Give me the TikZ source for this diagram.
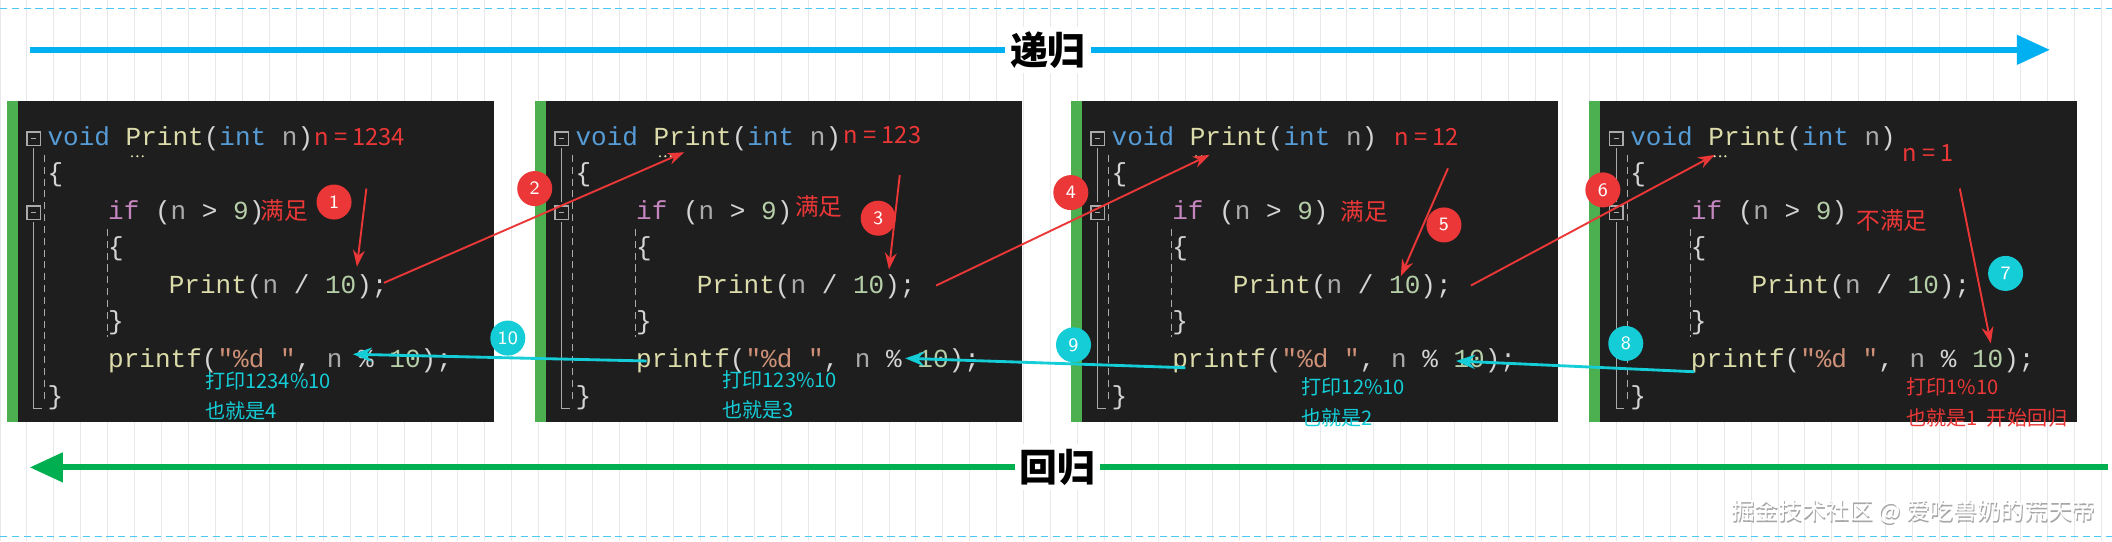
\documentclass[tikz,border=0pt]{standalone}
\usepackage{fontspec}
\setmonofont{Liberation Mono}
\newfontfamily\cjk{Noto Sans CJK SC}
\usetikzlibrary{arrows.meta}
\definecolor{bgcode}{RGB}{30,30,30}
\definecolor{kwblue}{RGB}{86,156,214}
\definecolor{fnyel}{RGB}{220,220,170}
\definecolor{kwpur}{RGB}{197,134,192}
\definecolor{numgr}{RGB}{181,206,168}
\definecolor{stror}{RGB}{206,145,120}
\definecolor{txtgr}{RGB}{212,212,212}
\definecolor{vargr}{RGB}{170,170,170}
\definecolor{barg}{RGB}{76,175,80}
\definecolor{annred}{RGB}{235,55,55}
\definecolor{anncy}{RGB}{20,205,215}
\definecolor{recblue}{RGB}{0,176,240}
\definecolor{retgreen}{RGB}{0,176,80}
\definecolor{gridc}{RGB}{232,232,236}
\tikzset{
 code/.style={anchor=west,inner sep=0pt,font=\ttfamily\fontsize{11}{11}\selectfont,text=txtgr},
 redtxt/.style={anchor=west,inner sep=0pt,text=annred,font=\cjk\fontsize{10}{10}\selectfont},
 cytxt/.style={anchor=west,inner sep=0pt,text=anncy,font=\cjk\fontsize{8.5}{8.5}\selectfont},
 badge/.style={circle,minimum size=0.52cm,inner sep=0pt,text=white,font=\sffamily\fontsize{8}{8}\selectfont},
 redbadge/.style={badge,fill=annred},
 cybadge/.style={badge,fill=anncy},
 redarr/.style={draw=annred,line width=0.8pt,-{Stealth[length=7pt,width=5pt]}},
 cyarr/.style={draw=anncy,line width=1.2pt,-{Stealth[length=8pt,width=6pt]}},
 fold/.style={draw=vargr,line width=0.5pt,minimum size=0.2cm,inner sep=0pt},
}
\newcommand\mypanel[2]{%
 \begin{scope}[shift={(#1,0)}]
  \fill[bgcode] (0,75) rectangle (362,313);
  \fill[barg] (0,75) rectangle (8,313);
  \node[fold] (f1#2) at (20,103) {};
  \draw[vargr,line width=0.3pt] (f1#2.center) ++(-2,0) -- ++(4,0);
  \node[fold] (f2#2) at (20,158) {};
  \draw[vargr,line width=0.3pt] (f2#2.center) ++(-2,0) -- ++(4,0);
  \draw[vargr,line width=0.4pt] (20,110) -- (20,150) (20,165) -- (20,303) -- (26,303);
  \draw[vargr,line width=0.4pt,densely dashed] (28,115) -- (28,298) (75,170) -- (75,250);
  \node[code] (a#2) at (30,103) {\textcolor{kwblue}{void} \textcolor{fnyel}{Print}(\textcolor{kwblue}{int} \textcolor{vargr}{n})};
  \node[code] (b#2) at (30,130) {\{};
  \node[code] (c#2) at (75,158) {\textcolor{kwpur}{if} (\textcolor{vargr}{n} > \textcolor{numgr}{9})};
  \node[code] (d#2) at (75,185) {\{};
  \node[code] (e#2) at (120,213) {\textcolor{fnyel}{Print}(\textcolor{vargr}{n} / \textcolor{numgr}{10});};
  \node[code] (g#2) at (75,240) {\}};
  \node[code] (h#2) at (75,268) {\textcolor{fnyel}{printf}(\textcolor{stror}{"\%d "}, \textcolor{vargr}{n} \% \textcolor{numgr}{10});};
  \node[code] (k#2) at (30,295) {\}};
  \fill[fnyel] (93,116) circle (0.9) (97,116) circle (0.9) (101,116) circle (0.9);
 \end{scope}}
\begin{document}
\begin{tikzpicture}[x=0.02cm,y=-0.02cm]
\useasboundingbox (0,0) rectangle (1568,402);
\fill[white] (0,0) rectangle (1568,402);
\draw[gridc,line width=0.4pt] (0,0) grid[step=20] (1568,402);
\draw[recblue!70,densely dashed,line width=0.4pt] (0,6) -- (1568,6) (0,398) -- (1568,398);
% top arrow
\coordinate (rs) at (22,37); \coordinate (re) at (1522,37);
\draw[recblue,line width=2.6pt,-{Triangle[length=14pt,width=12pt]}] (rs) -- (re);
\node[fill=white,inner sep=2pt,font=\cjk\bfseries\fontsize{16}{16}\selectfont] (rec) at (778,37) {递归};
% bottom arrow
\coordinate (bs) at (1565,347); \coordinate (be) at (22,347);
\draw[retgreen,line width=2.6pt,-{Triangle[length=14pt,width=12pt]}] (bs) -- (be);
\node[fill=white,inner sep=2pt,font=\cjk\bfseries\fontsize{16}{16}\selectfont] (ret) at (785,347) {回归};
% panels
\mypanel{5}{A}
\mypanel{397}{B}
\mypanel{795}{C}
\mypanel{1180}{D}
% red annotations
\node[redtxt] (nA) at (233,102) {n = 1234};
\node[redtxt] (mA) at (193,156) {满足};
\node[redtxt] (nB) at (626,100) {n = 123};
\node[redtxt] (mB) at (590,153) {满足};
\node[redtxt] (nC) at (1035,102) {n = 12};
\node[redtxt] (mC) at (995,157) {满足};
\node[redtxt] (nD) at (1412,114) {n = 1};
\node[redtxt] (mD) at (1378,164) {不满足};
\coordinate (s1) at (272,140); \coordinate (t1) at (265,198);
\draw[redarr] (s1) -- (t1);
\node[redbadge] (b1) at (248,150) {1};
\coordinate (s2) at (285,210); \coordinate (t2) at (508,113);
\draw[redarr] (s2) -- (t2);
\node[redbadge] (b2) at (397,140) {2};
\coordinate (s3) at (668,130); \coordinate (t3) at (660,200);
\draw[redarr] (s3) -- (t3);
\node[redbadge] (b3) at (652,162) {3};
\coordinate (s4) at (695,212); \coordinate (t4) at (898,115);
\draw[redarr] (s4) -- (t4);
\node[redbadge] (b4) at (795,143) {4};
\coordinate (s5) at (1075,125); \coordinate (t5) at (1040,205);
\draw[redarr] (s5) -- (t5);
\node[redbadge] (b5) at (1072,167) {5};
\coordinate (s6) at (1092,212); \coordinate (t6) at (1273,115);
\draw[redarr] (s6) -- (t6);
\node[redbadge] (b6) at (1190,141) {6};
\coordinate (s7) at (1455,140); \coordinate (t7) at (1478,255);
\draw[redarr] (s7) -- (t7);
\node[cybadge] (b7) at (1489,203) {7};
% cyan arrows
\coordinate (s8) at (1258,276); \coordinate (t8) at (1081,268);
\draw[cyarr] (s8) -- (t8);
\node[cybadge] (b8) at (1207,255) {8};
\coordinate (s9) at (880,273); \coordinate (t9) at (672,266);
\draw[cyarr] (s9) -- (t9);
\node[cybadge] (b9) at (797,256) {9};
\coordinate (s10) at (480,268); \coordinate (t10) at (262,263);
\draw[cyarr] (s10) -- (t10);
\node[cybadge] (b10) at (377,251) {10};
% results
\node[cytxt] (rA1) at (152,283) {打印1234\%10};
\node[cytxt] (rA2) at (152,305) {也就是4};
\node[cytxt] (rB1) at (536,282) {打印123\%10};
\node[cytxt] (rB2) at (536,304) {也就是3};
\node[cytxt] (rC1) at (966,287) {打印12\%10};
\node[cytxt] (rC2) at (966,310) {也就是2};
\node[cytxt,text=annred] (rD1) at (1415,287) {打印1\%10};
\node[cytxt,text=annred] (rD2) at (1415,310) {也就是1\ \ 开始回归};
% watermark
\node[anchor=east,inner sep=0pt,font=\cjk\fontsize{10}{10}\selectfont,text=gray!70] (wm0) at (1556.8,381.2) {掘金技术社区 @ 爱吃兽奶的荒天帝};
\node[anchor=east,inner sep=0pt,font=\cjk\fontsize{10}{10}\selectfont,text=white] (wm) at (1556,380) {掘金技术社区 @ 爱吃兽奶的荒天帝};
\end{tikzpicture}
\end{document}
